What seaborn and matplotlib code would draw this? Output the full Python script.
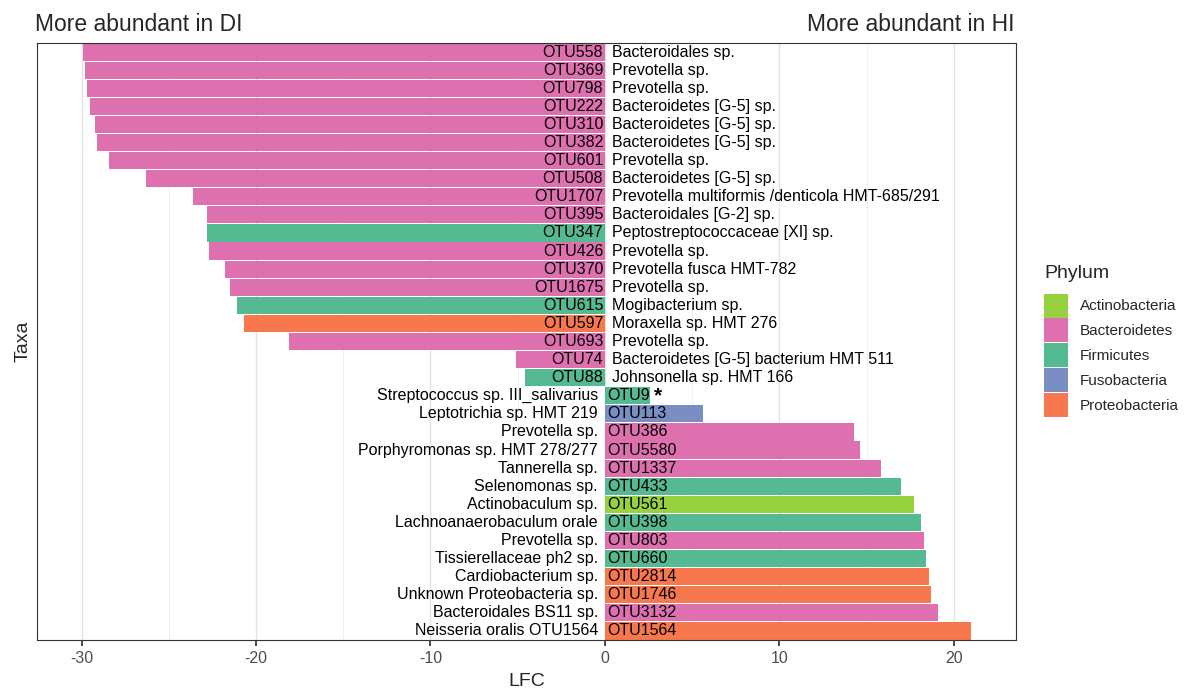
import matplotlib
matplotlib.use("Agg")
import matplotlib.pyplot as plt
import seaborn as sns
import pandas as pd
from matplotlib.patches import Patch

otu_ids = ["OTU558", "OTU369", "OTU798", "OTU222", "OTU310", "OTU382", "OTU601",
           "OTU508", "OTU1707", "OTU395", "OTU347", "OTU426", "OTU370", "OTU1675",
           "OTU615", "OTU597", "OTU693", "OTU74", "OTU88", "OTU9", "OTU113",
           "OTU386", "OTU5580", "OTU1337", "OTU433", "OTU561", "OTU398", "OTU803",
           "OTU660", "OTU2814", "OTU1746", "OTU3132", "OTU1564"]
taxa = ["Bacteroidales sp.", "Prevotella sp.", "Prevotella sp.", "Bacteroidetes [G-5] sp.",
        "Bacteroidetes [G-5] sp.", "Bacteroidetes [G-5] sp.", "Prevotella sp.",
        "Bacteroidetes [G-5] sp.", "Prevotella multiformis /denticola HMT-685/291",
        "Bacteroidales [G-2] sp.", "Peptostreptococcaceae [XI] sp.", "Prevotella sp.",
        "Prevotella fusca HMT-782", "Prevotella sp.", "Mogibacterium sp.",
        "Moraxella sp. HMT 276", "Prevotella sp.", "Bacteroidetes [G-5] bacterium HMT 511",
        "Johnsonella sp. HMT 166", "Streptococcus sp. III_salivarius", "Leptotrichia sp. HMT 219",
        "Prevotella sp.", "Porphyromonas sp. HMT 278/277", "Tannerella sp.", "Selenomonas sp.",
        "Actinobaculum sp.", "Lachnoanaerobaculum orale", "Prevotella sp.",
        "Tissierellaceae ph2 sp.", "Cardiobacterium sp.", "Unknown Proteobacteria sp.",
        "Bacteroidales BS11 sp.", "Neisseria oralis OTU1564"]
phylum = ["Bacteroidetes"] * 10 + ["Firmicutes"] + ["Bacteroidetes"] * 3 + ["Firmicutes",
          "Proteobacteria", "Bacteroidetes", "Bacteroidetes", "Firmicutes", "Firmicutes",
          "Fusobacteria", "Bacteroidetes", "Bacteroidetes", "Bacteroidetes", "Firmicutes",
          "Actinobacteria", "Firmicutes", "Bacteroidetes", "Firmicutes", "Proteobacteria",
          "Proteobacteria", "Bacteroidetes", "Proteobacteria"]
lfc = [-29.9, -29.8, -29.7, -29.5, -29.2, -29.1, -28.4, -26.3, -23.6, -22.8, -22.8,
       -22.7, -21.8, -21.5, -21.1, -20.7, -18.1, -5.1, -4.6, 2.6, 5.6, 14.3, 14.6,
       15.8, 17.0, 17.7, 18.1, 18.3, 18.4, 18.6, 18.7, 19.1, 21.0]
phylum_levels = ["Actinobacteria", "Bacteroidetes", "Firmicutes", "Fusobacteria", "Proteobacteria"]
phylum_colors = ["#97D140", "#DF70B0", "#55B992", "#7A8EC4", "#F8784E"]
star_otus = ["OTU9"]

df = pd.DataFrame({"OTU": otu_ids, "Taxon": taxa, "Phylum": phylum, "LFC": lfc})
palette = dict(zip(phylum_levels, phylum_colors))

sns.set_theme(style="white")
plt.rcParams["font.family"] = ["Liberation Sans", "DejaVu Sans"]
plt.rcParams["axes.unicode_minus"] = False

fig = plt.figure(figsize=(11.95, 6.93), dpi=100)
ax = fig.add_axes([0.031, 0.0765, 0.819, 0.8615])

sns.barplot(data=df, x="LFC", y="OTU", hue="Phylum", hue_order=phylum_levels,
            order=otu_ids, palette=palette, dodge=False, width=0.95, orient="h",
            saturation=1, legend=False, ax=ax, edgecolor="none", linewidth=0)

ax.set_xlim(-32.55, 23.55)
ax.set_ylim(len(otu_ids) - 0.5, -0.5)
ax.set_xticks([-30, -20, -10, 0, 10, 20])
ax.set_xticks([-25, -15, -5, 5, 15], minor=True)
ax.grid(axis="x", which="major", color="#e3e3e3", linewidth=1.0, zorder=0)
ax.grid(axis="x", which="minor", color="#efefef", linewidth=0.7, zorder=0)
ax.set_axisbelow(True)
ax.set_yticks([])
ax.tick_params(axis="x", which="major", length=4, color="#333333", labelsize=11.5,
               labelcolor="#4d4d4d", bottom=True, pad=4)
ax.tick_params(axis="x", which="minor", length=0)
for s in ax.spines.values():
    s.set_color("#333333")
    s.set_linewidth(0.8)
ax.set_xlabel("LFC", fontsize=14, labelpad=5)
ax.set_ylabel("Taxa", fontsize=14, labelpad=4)

fs = 11.5
for i, (o, t, v) in enumerate(zip(otu_ids, taxa, lfc)):
    if v < 0:
        ax.text(-0.1, i, o, ha="right", va="center", fontsize=fs, color="black")
        ax.text(0.4, i, t, ha="left", va="center", fontsize=fs, color="black")
    else:
        ax.text(0.15, i, o, ha="left", va="center", fontsize=fs, color="black")
        if o in star_otus:
            ax.text(v + 0.2, i, "*", ha="left", va="center", fontsize=15,
                    fontweight="bold", color="black")
        ax.text(-0.4, i, t, ha="right", va="center", fontsize=fs, color="black")

fig.text(0.029, 0.965, "More abundant in DI", ha="left", va="center", fontsize=16.5)
fig.text(0.849, 0.965, "More abundant in HI", ha="right", va="center", fontsize=16.5)

handles = [Patch(facecolor=c, edgecolor="none") for c in phylum_colors]
leg = fig.legend(handles, phylum_levels, title="Phylum", loc="upper left",
                 bbox_to_anchor=(0.874, 0.617), frameon=False, fontsize=11,
                 title_fontsize=14, handlelength=1.55, handleheight=2.05,
                 labelspacing=0.05, handletextpad=0.75, borderaxespad=0,
                 borderpad=0)
leg._legend_box.align = "left"
leg._legend_box.sep = 8

fig.savefig("out.png", dpi=100)
